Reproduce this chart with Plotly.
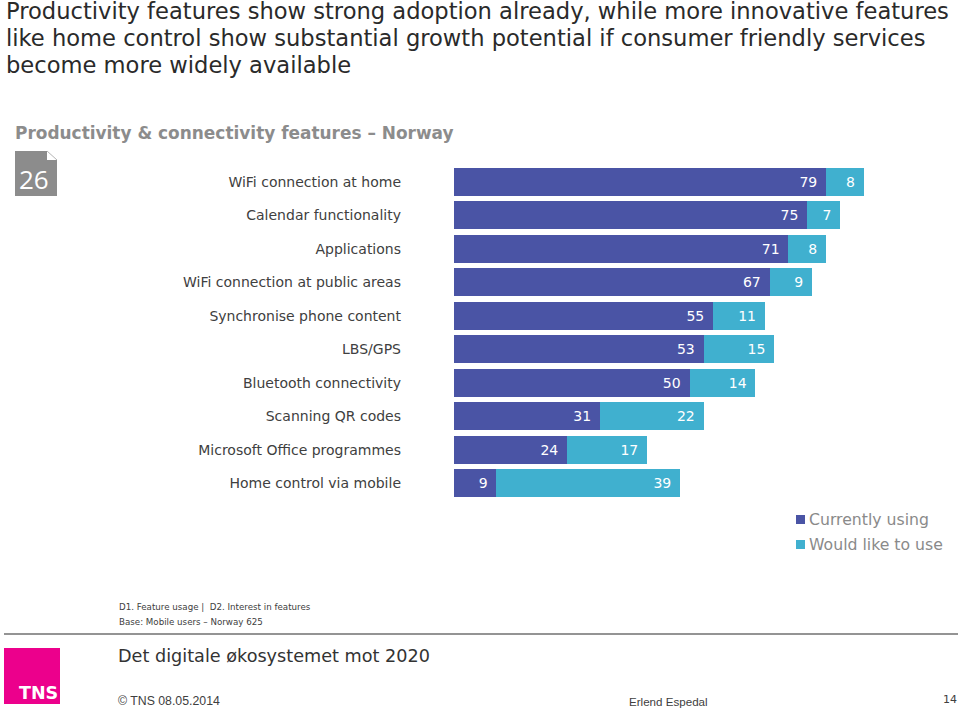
import plotly.graph_objects as go

W, H = 960, 708
FONT = "DejaVu Sans"
PLOT_L, PLOT_R, PLOT_T, PLOT_B = 454, 925, 165, 500

categories = ["WiFi connection at home", "Calendar functionality", "Applications",
              "WiFi connection at public areas", "Synchronise phone content", "LBS/GPS",
              "Bluetooth connectivity", "Scanning QR codes", "Microsoft Office programmes",
              "Home control via mobile"]
currently_using = [79, 75, 71, 67, 55, 53, 50, 31, 24, 9]
would_like = [8, 7, 8, 9, 11, 15, 14, 22, 17, 39]
series_names = ["Currently using", "Would like to use"]
BLUE, TEAL = "#4a54a5", "#40b0cf"
PAD = "\u00a0\u200a"


def px(x):
    return (x - PLOT_L) / (PLOT_R - PLOT_L)


def py(y):
    return (PLOT_B - y) / (PLOT_B - PLOT_T)


def text(x, y, s, size, color="#404040", anchor="left", family=FONT):
    return dict(x=px(x), y=py(y), xref="paper", yref="paper", text=s, showarrow=False,
                xanchor=anchor, yanchor="middle", align=anchor, borderpad=0,
                font=dict(family=family, size=size, color=color))


def rect(x0, y0, x1, y1, color):
    return dict(type="rect", xref="paper", yref="paper", x0=px(x0), x1=px(x1), y0=py(y0), y1=py(y1),
                fillcolor=color, line=dict(width=0), layer="above")


def hline(x0, x1, y, color="#707070", width=1.5):
    return dict(type="line", xref="paper", yref="paper", x0=px(x0), x1=px(x1), y0=py(y), y1=py(y),
                line=dict(color=color, width=width))


fig = go.Figure()
for name, vals, color in [(series_names[0], currently_using, BLUE),
                          (series_names[1], would_like, TEAL)]:
    fig.add_bar(y=categories, x=vals, name=name, orientation="h", marker=dict(color=color, line=dict(width=0)),
                text=[f"{v}{PAD}" for v in vals], textposition="inside", insidetextanchor="end",
                textangle=0, insidetextfont=dict(family=FONT, size=14, color="#ffffff"),
                constraintext="none", showlegend=False)

annotations = [
    text(4.5, 11, "Productivity features show strong adoption already, while more innovative features", 22.6, "#2a2a2a"),
    text(4.5, 38, "like home control show substantial growth potential if consumer friendly services", 22.6, "#2a2a2a"),
    text(4.5, 65, "become more widely available", 22.6, "#2a2a2a"),
    text(13.5, 133, "<b>Productivity &amp; connectivity features \u2013 Norway</b>", 16.95, "#8c8c8c"),
    text(34, 179, "26", 26, "#ffffff", "center", "Open Sans"),
    text(808, 519.5, series_names[0], 15.7, "#8a8a8a"),
    text(808, 544, series_names[1], 15.7, "#8a8a8a"),
    text(117.5, 607, "D1. Feature usage |  D2. Interest in features", 8.7, "#404040"),
    text(117.5, 622, "Base: Mobile users \u2013 Norway 625", 8.7, "#404040"),
    text(116.5, 656, "Det digitale \u00f8kosystemet mot 2020", 17.65, "#333333"),
    text(117, 700.5, "\u00a9 TNS 08.05.2014", 12.3, "#404040", "left", "Liberation Sans"),
    text(628, 701, "Erlend Espedal", 11.6, "#404040", "left", "Liberation Sans"),
    text(958, 699, "14", 11, "#404040", "right"),
    text(38, 693, "<b>TNS</b>", 17.5, "#ffffff", "center"),
]

shapes = [
    rect(15, 151, 57, 196, "#8c8c8c"),
    dict(type="path", xref="paper", yref="paper", line=dict(width=0), fillcolor="#ffffff", layer="above",
         path=f"M {px(47)} {py(150)} L {px(58)} {py(150)} L {px(58)} {py(160)} L {px(47)} {py(160)} Z"),
    dict(type="line", xref="paper", yref="paper", x0=px(47), x1=px(57), y0=py(151), y1=py(160),
         line=dict(color="#b5b5b5", width=1), layer="above"),
    rect(796, 515, 805, 524, BLUE),
    rect(796, 540, 805, 549, TEAL),
    hline(4, 958, 634),
    rect(4, 648, 60, 704, "#ec008c"),
]

fig.update_layout(
    width=W, height=H, autosize=False, barmode="stack", bargap=0.17,
    margin=dict(l=PLOT_L, r=W - PLOT_R, t=PLOT_T, b=H - PLOT_B),
    paper_bgcolor="#ffffff", plot_bgcolor="#ffffff",
    font=dict(family=FONT, size=14, color="#404040"),
    annotations=annotations, shapes=shapes,
    xaxis=dict(range=[0, 100], visible=False, fixedrange=True),
    yaxis=dict(autorange="reversed", showgrid=False, showline=False, zeroline=False, ticks="",
               ticklabelstandoff=52, tickfont=dict(family=FONT, size=14, color="#404040"), fixedrange=True),
)
fig.write_html("out.html", config=dict(displayModeBar=False), post_script="document.body.style.margin='0';")
